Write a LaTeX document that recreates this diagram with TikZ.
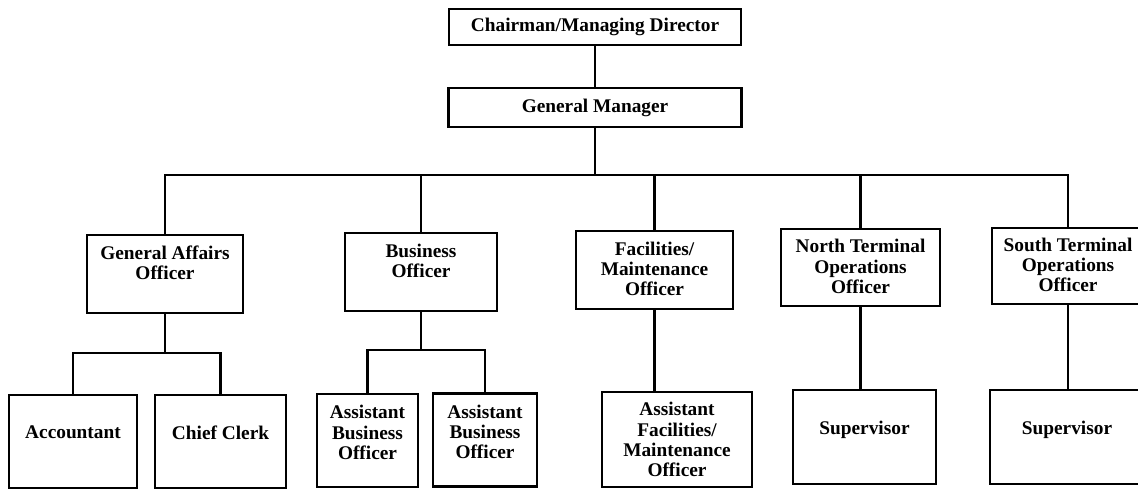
\documentclass[tikz,border=0pt]{standalone}
\usepackage{fontspec}
\setmainfont{Liberation Serif}

\begin{document}
\begin{tikzpicture}[
  x=0.02cm, y=-0.02cm,
  box/.style={draw, line width=1.3pt, align=center, inner sep=0pt,
              font=\fontsize{11}{11.5}\selectfont\bfseries},
  top/.style={box, minimum height=0.76cm},
  mid/.style={box, minimum height=1.56cm},
  low/.style={box, minimum height=1.86cm},
  link/.style={line width=1.3pt}
]
\useasboundingbox (0,0) rectangle (1138,490);
\clip (0,0) rectangle (1138,490);

% top of the chart
\node[top, minimum width=5.84cm, minimum height=0.72cm] (chair) at (595,27) {Chairman/Managing Director};
\node[top, minimum width=5.86cm, minimum height=0.78cm] (gm)    at (595,107.5) {General Manager};

% officers
\node[mid, minimum width=3.12cm, text depth=12.7pt] (ga) at (165,274)   {General Affairs\\Officer};
\node[mid, minimum width=3.04cm, text depth=12.7pt] (bo) at (421,272)   {Business\\Officer};
\node[mid, minimum width=3.14cm, text depth=1.2pt]  (fm) at (654.5,270) {Facilities/\\Maintenance\\Officer};
\node[mid, minimum width=3.18cm, minimum height=1.54cm, text depth=1.2pt] (nt) at (860.5,267.5) {North Terminal\\Operations\\Officer};
\node[mid, minimum width=3.04cm, minimum height=1.52cm, text depth=1.2pt] (st) at (1068,266) {South Terminal\\Operations\\Officer};

% staff
\node[low, minimum width=2.56cm, text depth=10.6pt] (acc)   at (73,441.5)  {Accountant};
\node[low, minimum width=2.62cm, text depth=10.6pt] (clerk) at (220.5,441.5) {Chief Clerk};
\node[low, minimum width=2.02cm, text depth=9.2pt]  (ab1)   at (367.5,440.5) {Assistant\\Business\\Officer};
\node[low, minimum width=2.08cm, text depth=9.2pt]  (ab2)   at (485,440)   {Assistant\\Business\\Officer};
\node[low, minimum width=3.0cm, minimum height=1.9cm] (af)  at (677,439.5) {Assistant\\Facilities/\\Maintenance\\Officer};
\node[low, minimum width=2.86cm, minimum height=1.88cm, text depth=10.6pt] (sv1) at (864.5,437) {Supervisor};
\node[low, minimum width=3.08cm, minimum height=1.88cm, text depth=10.6pt] (sv2) at (1067,437) {Supervisor};

% connectors
\coordinate (bus) at (595,175);
\coordinate (gaj) at (165,353);
\coordinate (boj) at (421,350);
\draw[link] (chair) -- (gm);
\draw[link] (gm) -- (bus);
\draw[link] (ga.north) |- (bus) -| (st.north);
\foreach \n in {bo,fm,nt}
  \draw[link] (\n.north) -- (\n.north |- bus);
\draw[link] (ga) -- (gaj);
\draw[link] (acc.north) |- (gaj) -| (clerk.north);
\draw[link] (bo) -- (boj);
\draw[link] (ab1.north) |- (boj) -| (ab2.north);
\draw[link] (fm) -- (fm.south |- af.north);
\draw[link] (nt) -- (nt.south |- sv1.north);
\draw[link] (st) -- (st.south |- sv2.north);
\end{tikzpicture}
\end{document}
